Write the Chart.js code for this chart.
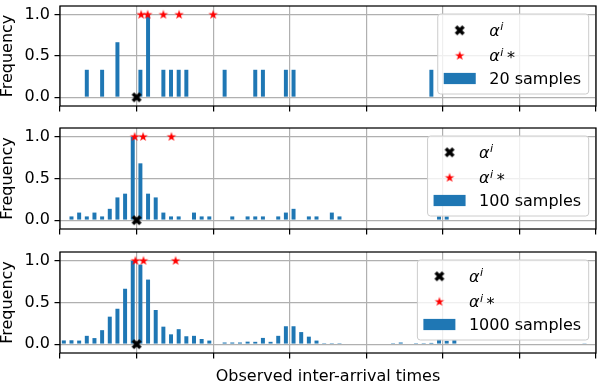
<!DOCTYPE html>
<html><head><meta charset="utf-8">
<script src="https://cdn.jsdelivr.net/npm/chart.js@4/dist/chart.umd.min.js"></script>
<style>
html,body{margin:0;padding:0;background:#fff;}
#wrap{position:relative;width:602px;height:386px;overflow:hidden;}
canvas{position:absolute;left:0;}
</style></head><body>
<div id="wrap">
<canvas id="c1" width="602" height="124" style="top:0px"></canvas>
<canvas id="c2" width="602" height="124" style="top:122px"></canvas>
<canvas id="c3" width="602" height="140" style="top:246px"></canvas>
</div>
<script>
// ---- data ----
const xTicks = [0, 1, 2, 3, 4, 5, 6, 7];
const yTicks = [0, 0.5, 1.0];
const yLabel = 'Frequency';
const xLabel = 'Observed inter-arrival times';

const alphaTrue = [1.0];

const bins20 = [0.35, 0.55, 0.75, 1.05, 1.15, 1.35, 1.45, 1.55, 1.65, 2.15, 2.55, 2.65, 2.95, 3.05, 4.85];
const freq20 = [0.333, 0.333, 0.667, 0.333, 1.0, 0.333, 0.333, 0.333, 0.333, 0.333, 0.333, 0.333, 0.333, 0.333, 0.333];
const stars20 = [1.06, 1.145, 1.35, 1.555, 2.0];

const bins100 = [0.15, 0.25, 0.35, 0.45, 0.55, 0.65, 0.75, 0.85, 0.95, 1.05, 1.15, 1.25, 1.35, 1.45, 1.55, 1.75, 1.85, 1.95, 2.25, 2.45, 2.55, 2.65, 2.85, 2.95, 3.05, 3.25, 3.35, 3.55, 3.65, 4.95, 5.05];
const freq100 = [0.045, 0.091, 0.045, 0.091, 0.045, 0.136, 0.273, 0.318, 1.0, 0.682, 0.318, 0.273, 0.091, 0.045, 0.045, 0.091, 0.045, 0.045, 0.045, 0.045, 0.045, 0.045, 0.045, 0.091, 0.136, 0.045, 0.045, 0.091, 0.045, 0.045, 0.045];
const stars100 = [0.975, 1.085, 1.455];

const bins1000 = [0.05, 0.15, 0.25, 0.35, 0.45, 0.55, 0.65, 0.75, 0.85, 0.95, 1.05, 1.15, 1.25, 1.35, 1.45, 1.55, 1.65, 1.75, 1.85, 1.95, 2.15, 2.25, 2.35, 2.45, 2.55, 2.65, 2.75, 2.85, 2.95, 3.05, 3.15, 3.25, 3.35, 3.45, 3.55, 3.65, 4.35, 4.45, 4.65, 4.75, 4.85, 4.95, 5.05, 5.15, 6.85];
const freq1000 = [0.045, 0.047, 0.043, 0.10, 0.073, 0.168, 0.33, 0.425, 0.665, 1.0, 0.955, 0.775, 0.41, 0.21, 0.118, 0.18, 0.095, 0.10, 0.062, 0.043, 0.02, 0.02, 0.02, 0.03, 0.028, 0.075, 0.028, 0.10, 0.215, 0.215, 0.145, 0.09, 0.043, 0.012, 0.012, 0.012, 0.012, 0.02, 0.012, 0.012, 0.015, 0.055, 0.04, 0.047, 0.01];
const stars1000 = [0.985, 1.09, 1.51];

const sampleLabels = ['20 samples', '100 samples', '1000 samples'];

// ---- marker images ----
const FONT = '"DejaVu Sans", "Liberation Sans", sans-serif';
function makeXImg() {
  const c = document.createElement('canvas'); c.width = 12; c.height = 12;
  const g = c.getContext('2d');
  const v = [[-1,-2],[0,-1],[1,-2],[2,-1],[1,0],[2,1],[1,2],[0,1],[-1,2],[-2,1],[-1,0],[-2,-1]];
  g.beginPath();
  v.forEach((p, i) => { const x = 6 + p[0]*2.5, y = 6 + p[1]*2.5; i ? g.lineTo(x, y) : g.moveTo(x, y); });
  g.closePath(); g.fillStyle = '#000'; g.fill();
  return c;
}
function makeStarImg() {
  const c = document.createElement('canvas'); c.width = 12; c.height = 12;
  const g = c.getContext('2d');
  const R = 5, r = 5 * 0.381966;
  g.beginPath();
  for (let k = 0; k < 10; k++) {
    const ang = -Math.PI/2 + k * Math.PI/5;
    const rad = k % 2 ? r : R;
    const x = 6 + rad*Math.cos(ang), y = 6 + rad*Math.sin(ang);
    k ? g.lineTo(x, y) : g.moveTo(x, y);
  }
  g.closePath(); g.fillStyle = '#ff0000'; g.fill();
  return c;
}
const xImg = makeXImg();
const starImg = makeStarImg();

// ---- plugins ----
const framePlugin = {
  id: 'frame',
  afterDraw(chart) {
    const a = chart.chartArea, ctx = chart.ctx;
    ctx.save();
    ctx.strokeStyle = '#000'; ctx.lineWidth = 1.25;
    ctx.strokeRect(a.left, a.top, a.right - a.left, a.bottom - a.top);
    ctx.restore();
  }
};

const legendPlugin = {
  id: 'insetLegend',
  afterDraw(chart, args, opts) {
    const ctx = chart.ctx, a = chart.chartArea;
    ctx.save();
    ctx.font = '16px ' + FONT;
    const tw = ctx.measureText(opts.label).width;
    const w = 51.5 + tw + 7.5, h = 80;
    const x0 = a.right - 7.3 - w, y0 = a.top + 8;
    const rad = 3;
    ctx.beginPath();
    ctx.moveTo(x0 + rad, y0);
    ctx.lineTo(x0 + w - rad, y0); ctx.quadraticCurveTo(x0 + w, y0, x0 + w, y0 + rad);
    ctx.lineTo(x0 + w, y0 + h - rad); ctx.quadraticCurveTo(x0 + w, y0 + h, x0 + w - rad, y0 + h);
    ctx.lineTo(x0 + rad, y0 + h); ctx.quadraticCurveTo(x0, y0 + h, x0, y0 + h - rad);
    ctx.lineTo(x0, y0 + rad); ctx.quadraticCurveTo(x0, y0, x0 + rad, y0);
    ctx.closePath();
    ctx.fillStyle = 'rgba(255,255,255,0.8)'; ctx.fill();
    ctx.strokeStyle = '#cccccc'; ctx.lineWidth = 1; ctx.stroke();

    const rows = [16.3, 41.8, 64.5];
    const mx = x0 + 22;
    ctx.drawImage(xImg, mx - 6, y0 + rows[0] - 6);
    ctx.drawImage(starImg, mx - 6, y0 + rows[1] - 6);
    ctx.fillStyle = '#1f77b4';
    ctx.fillRect(x0 + 6, y0 + rows[2] - 5.6, 32, 11.2);

    const tx = x0 + 51.5;
    ctx.fillStyle = '#000'; ctx.textBaseline = 'alphabetic'; ctx.textAlign = 'left';
    for (let r = 0; r < 2; r++) {
      const by = y0 + rows[r] + 5.3;
      ctx.font = 'italic 16px ' + FONT;
      ctx.fillText('α', tx, by);
      const aw = ctx.measureText('α').width;
      ctx.font = 'italic 11.2px ' + FONT;
      ctx.fillText('i', tx + aw + 0.5, by - 5.2);
      const iw = ctx.measureText('i').width;
      if (r === 1) {
        ctx.font = '16px ' + FONT;
        ctx.fillText('*', tx + aw + 0.5 + iw + 3.5, by + 1.5);
      }
    }
    ctx.font = '16px ' + FONT;
    ctx.fillText(opts.label, tx, y0 + rows[2] + 5.8);
    ctx.restore();
  }
};

// ---- chart builder ----
function makeChart(id, bins, freq, stars, label, padTop, xHeight, showXTitle) {
  const gridOpts = { color: '#b0b0b0', lineWidth: 1.2, tickColor: '#000', tickLength: 5.5, tickWidth: 1.25, drawTicks: true, offset: false };
  return new Chart(document.getElementById(id), {
    type: 'bar',
    data: {
      datasets: [
        { type: 'bar', label: label, data: bins.map((x, i) => ({ x: x, y: freq[i] })),
          backgroundColor: '#1f77b4', borderWidth: 0, barPercentage: 0.52, categoryPercentage: 1.0, order: 3 },
        { type: 'scatter', label: 'αi*', data: stars.map(x => ({ x: x, y: 1.0 })),
          pointStyle: starImg, pointRadius: 5, order: 2 },
        { type: 'scatter', label: 'αi', data: alphaTrue.map(x => ({ x: x, y: 0 })),
          pointStyle: xImg, pointRadius: 5, order: 1 }
      ]
    },
    options: {
      responsive: false, animation: false, devicePixelRatio: 1,
      layout: { padding: { top: padTop, right: 2, left: 0, bottom: 0 } },
      plugins: { legend: { display: false }, tooltip: { enabled: false }, insetLegend: { label: label } },
      scales: {
        x: {
          type: 'linear', min: xTicks[0], max: xTicks[xTicks.length - 1], offset: false, z: 1,
          afterBuildTicks: s => { s.ticks = xTicks.map(v => ({ value: v })); },
          ticks: { display: false },
          grid: gridOpts, border: { display: false },
          title: { display: showXTitle, text: xLabel, color: '#000', font: { family: FONT, size: 16 }, padding: { top: 0, bottom: 0 } },
          afterFit: s => { s.height = xHeight; s.paddingLeft = 0; s.paddingRight = 0; }
        },
        y: {
          type: 'linear', min: -0.106, max: 1.106, z: 1,
          afterBuildTicks: s => { s.ticks = yTicks.map(v => ({ value: v })); },
          ticks: { color: '#000', font: { family: FONT, size: 16 }, padding: 4.5, callback: v => Number(v).toFixed(1) },
          grid: gridOpts, border: { display: false },
          title: { display: true, text: yLabel, color: '#000', font: { family: FONT, size: 16 }, padding: { top: -1.5, bottom: 0 } },
          afterFit: s => { s.width = 60; s.paddingTop = 0; s.paddingBottom = 0; }
        }
      }
    },
    plugins: [framePlugin, legendPlugin]
  });
}

makeChart('c1', bins20, freq20, stars20, sampleLabels[0], 3, 18, false);
makeChart('c2', bins100, freq100, stars100, sampleLabels[1], 4, 17, false);
makeChart('c3', bins1000, freq1000, stars1000, sampleLabels[2], 4, 33, true);
</script>
</body></html>
